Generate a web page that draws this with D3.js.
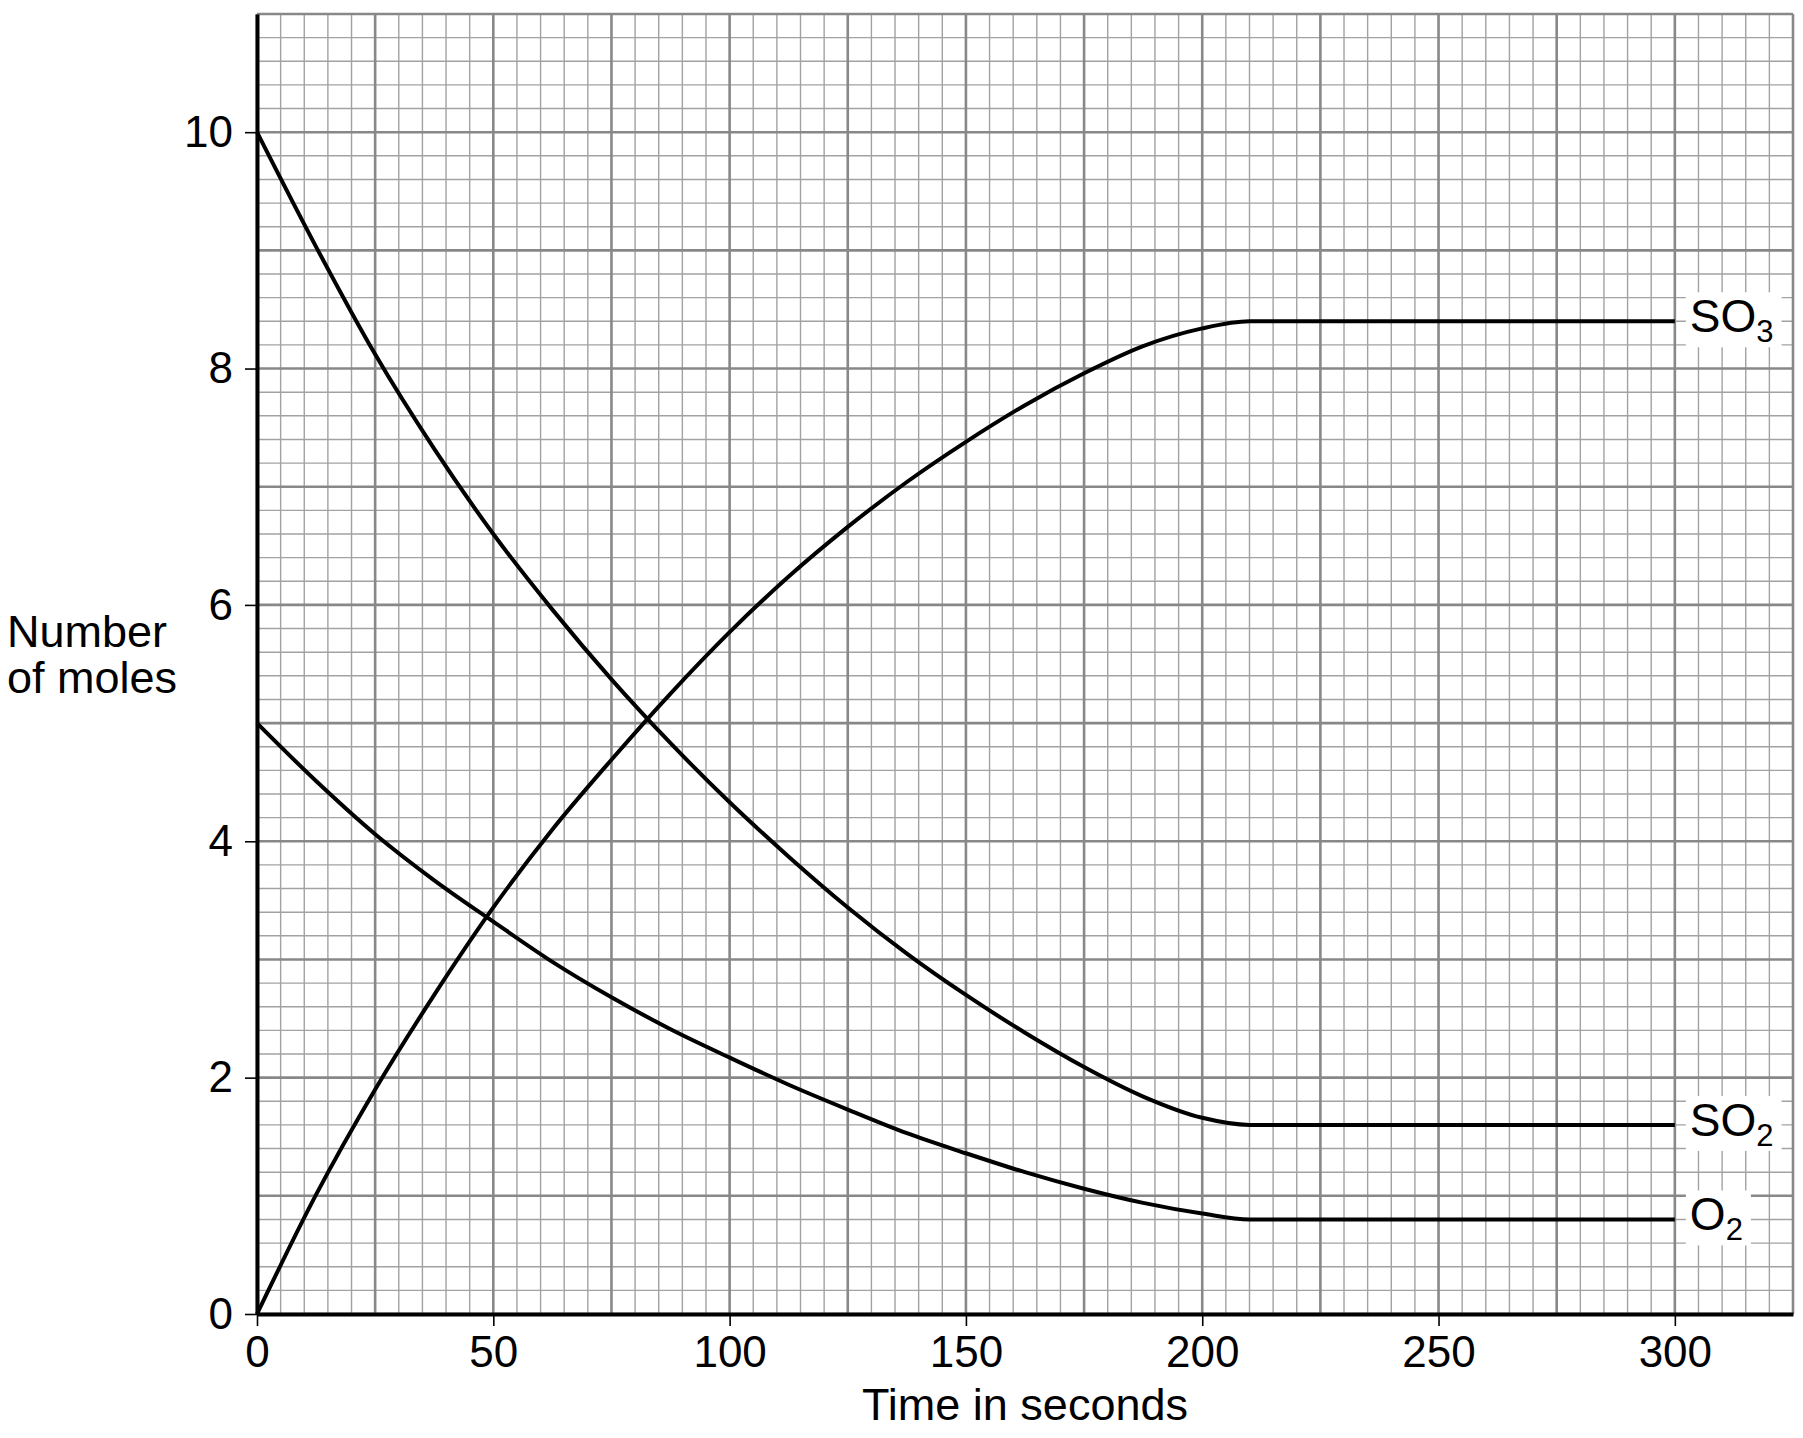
<!DOCTYPE html>
<html>
<head>
<meta charset="utf-8">
<script src="https://cdn.jsdelivr.net/npm/d3@7"></script>
<style>
  body { margin: 0; background: #fff; }
  text { font-family: "Liberation Sans", Arial, sans-serif; fill: #000; }
</style>
</head>
<body>
<svg id="chart" width="1803" height="1438"></svg>
<script>
// time in seconds
var times = [0, 12.5, 25, 37.5, 50, 62.5, 75, 87.5, 100, 112.5, 125, 137.5, 150, 162.5, 175, 187.5, 200, 210, 300];

// number of moles
var so3 = [0, 1.01, 1.90, 2.70, 3.44, 4.10, 4.69, 5.25, 5.77, 6.24, 6.66, 7.04, 7.38, 7.69, 7.96, 8.19, 8.34, 8.4, 8.4];
var so2 = [10, 9.03, 8.12, 7.32, 6.60, 5.96, 5.37, 4.83, 4.33, 3.87, 3.44, 3.05, 2.70, 2.38, 2.09, 1.84, 1.66, 1.6, 1.6];
var o2 = [5, 4.51, 4.06, 3.67, 3.32, 2.98, 2.68, 2.41, 2.17, 1.94, 1.73, 1.53, 1.36, 1.20, 1.06, 0.94, 0.85, 0.8, 0.8];

var seriesNames = ['SO3', 'SO2', 'O2'];
var seriesLabels = [['SO', '3'], ['SO', '2'], ['O', '2']];

var xTicks = [0, 50, 100, 150, 200, 250, 300];
var yTicks = [0, 2, 4, 6, 8, 10];

var svg = d3.select('#chart');

var x = d3.scaleLinear().domain([0, 325]).range([257, 1793]);
var y = d3.scaleLinear().domain([0, 11]).range([1314, 14]);

var grid = svg.append('g');

// minor grid: every 5 s and every 0.2 mol
var minorX = d3.range(0, 66).map(function(i) { return i * 5; }).filter(function(v) { return v % 25 !== 0; });
var minorY = d3.range(0, 56).map(function(i) { return +(i * 0.2).toFixed(1); }).filter(function(v) { return v % 1 !== 0; });
var majorX = d3.range(0, 14).map(function(i) { return i * 25; });
var majorY = d3.range(0, 12);

grid.selectAll('.vminor').data(minorX).enter().append('line')
  .attr('x1', function(d) { return x(d); }).attr('x2', function(d) { return x(d); })
  .attr('y1', y(0)).attr('y2', y(11))
  .attr('stroke', '#a2a2a2').attr('stroke-width', 1.4);

grid.selectAll('.hminor').data(minorY).enter().append('line')
  .attr('y1', function(d) { return y(d); }).attr('y2', function(d) { return y(d); })
  .attr('x1', x(0)).attr('x2', x(325))
  .attr('stroke', '#a2a2a2').attr('stroke-width', 1.4);

grid.selectAll('.vmajor').data(majorX).enter().append('line')
  .attr('x1', function(d) { return x(d); }).attr('x2', function(d) { return x(d); })
  .attr('y1', y(0)).attr('y2', y(11))
  .attr('stroke', '#888').attr('stroke-width', 2.6);

grid.selectAll('.hmajor').data(majorY).enter().append('line')
  .attr('y1', function(d) { return y(d); }).attr('y2', function(d) { return y(d); })
  .attr('x1', x(0)).attr('x2', x(325))
  .attr('stroke', '#888').attr('stroke-width', 2.6);

// axes
var xAxis = svg.append('g')
  .attr('transform', 'translate(0,' + y(0) + ')')
  .call(d3.axisBottom(x).tickValues(xTicks).tickSize(12).tickSizeOuter(0).tickPadding(10));

var yAxis = svg.append('g')
  .attr('transform', 'translate(' + x(0) + ',0)')
  .call(d3.axisLeft(y).tickValues(yTicks).tickSize(12).tickSizeOuter(0).tickPadding(12));

[xAxis, yAxis].forEach(function(a) {
  a.select('.domain').attr('stroke', '#000').attr('stroke-width', 4);
  a.selectAll('.tick line').attr('stroke', '#000').attr('stroke-width', 1.6);
  a.selectAll('.tick text')
    .attr('font-size', 44)
    .attr('font-family', '"Liberation Sans", Arial, sans-serif');
});

// curves
var line = d3.line()
  .x(function(d) { return x(d[0]); })
  .y(function(d) { return y(d[1]); })
  .curve(d3.curveMonotoneX);

var series = [so3, so2, o2];

series.forEach(function(vals, k) {
  var pts = times.map(function(t, i) { return [t, vals[i]]; });
  svg.append('path')
    .datum(pts)
    .attr('class', 'series ' + seriesNames[k])
    .attr('d', line)
    .attr('fill', 'none')
    .attr('stroke', '#000')
    .attr('stroke-width', 4)
    .attr('stroke-linejoin', 'round');

  // label at the end of the line, on a white patch
  var last = pts[pts.length - 1];
  var lg = svg.append('g');
  var bg = lg.append('rect').attr('fill', '#fff');
  var txt = lg.append('text')
    .attr('x', x(last[0]) + 15)
    .attr('y', y(last[1]) + 11)
    .attr('font-size', 46);
  txt.append('tspan').text(seriesLabels[k][0]);
  txt.append('tspan').attr('font-size', 31).attr('dy', 10).text(seriesLabels[k][1]);
  var bb = txt.node().getBBox();
  bg.attr('x', bb.x - 4).attr('y', bb.y + 2)
    .attr('width', bb.width + 12).attr('height', bb.height - 4);
});

// axis titles
svg.append('text')
  .attr('x', (x(0) + x(325)) / 2)
  .attr('y', 1420)
  .attr('text-anchor', 'middle')
  .attr('font-size', 45)
  .text('Time in seconds');

var yt = svg.append('text')
  .attr('x', 7)
  .attr('y', 647)
  .attr('font-size', 45);
yt.append('tspan').attr('x', 7).text('Number');
yt.append('tspan').attr('x', 7).attr('dy', 46).text('of moles');
</script>
</body>
</html>
